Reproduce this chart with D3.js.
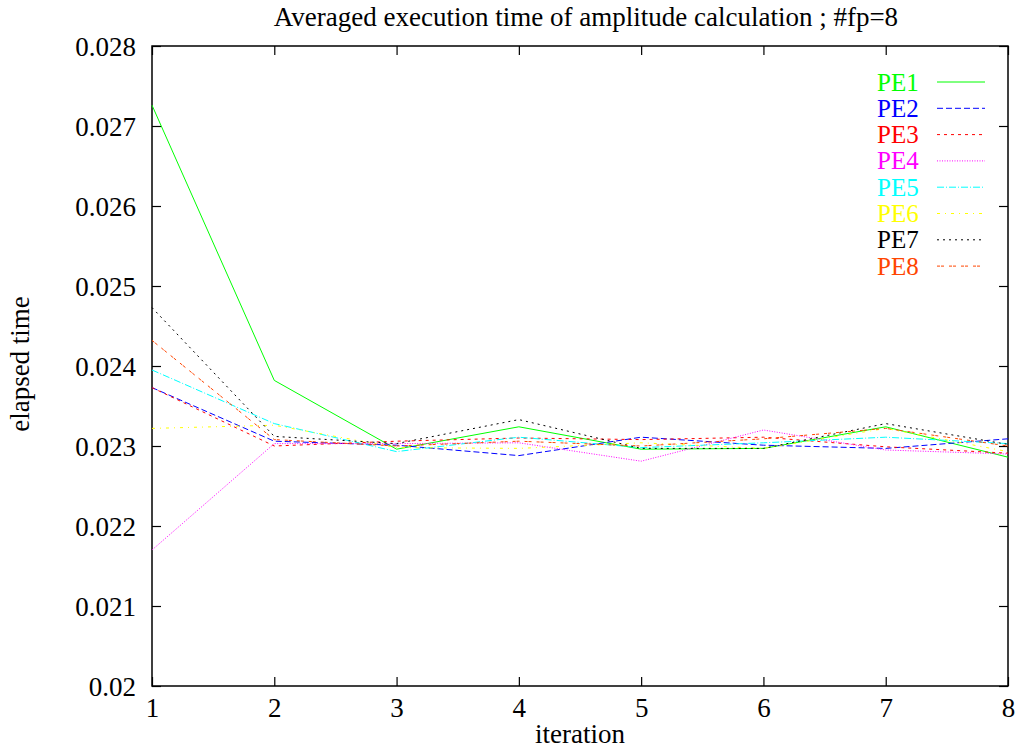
<!DOCTYPE html>
<html>
<head>
<meta charset="utf-8">
<script src="https://cdn.jsdelivr.net/npm/d3@7"></script>
<style>
  body { margin: 0; background: #fff; }
  svg text { font-family: "Liberation Serif", "DejaVu Serif", serif; }
</style>
</head>
<body>
<div id="chart"></div>
<script>
// iterations on the x axis
var iterations = [1, 2, 3, 4, 5, 6, 7, 8];
var yTicks = [0.02, 0.021, 0.022, 0.023, 0.024, 0.025, 0.026, 0.027, 0.028];

// averaged elapsed time per PE
var pe1 = [0.02726, 0.02382, 0.02296, 0.02324, 0.02296, 0.02297, 0.02324, 0.02286];
var pe2 = [0.02373, 0.02306, 0.02301, 0.02288, 0.02311, 0.02301, 0.02297, 0.02309];
var pe3 = [0.02373, 0.02300, 0.02306, 0.02310, 0.02308, 0.02311, 0.02299, 0.02291];
var pe4 = [0.02170, 0.02303, 0.02303, 0.02304, 0.02281, 0.02320, 0.02295, 0.02290];
var pe5 = [0.02395, 0.02328, 0.02293, 0.02311, 0.02298, 0.02304, 0.02311, 0.02303];
var pe6 = [0.02322, 0.02326, 0.02298, 0.02297, 0.02304, 0.02297, 0.02322, 0.02293];
var pe7 = [0.02473, 0.02312, 0.02303, 0.02333, 0.02297, 0.02297, 0.02328, 0.02302];
var pe8 = [0.02432, 0.02308, 0.02300, 0.02306, 0.02300, 0.02309, 0.02322, 0.02300];

var names = ["PE1", "PE2", "PE3", "PE4", "PE5", "PE6", "PE7", "PE8"];
var colors = ["#00ff00", "#0000ff", "#ff0000", "#ff00ff", "#00ffff", "#ffff00", "#000000", "#ff4500"];
var dashes = [null, "6,3", "3,4", "1,1.5", "7,2,1,2", "3,5,1,5", "2,4", "3,1,3,5"];
var values = [pe1, pe2, pe3, pe4, pe5, pe6, pe7, pe8];

var width = 1021, height = 749;
var margin = {left: 152, right: 13, top: 46, bottom: 63};
var serif = "'Liberation Serif', 'DejaVu Serif', serif";

var svg = d3.select("#chart").append("svg")
    .attr("width", width)
    .attr("height", height)
    .attr("font-family", serif);

var x = d3.scaleLinear().domain([1, 8]).range([margin.left, width - margin.right]);
var y = d3.scaleLinear().domain([0.02, 0.028]).range([height - margin.bottom, margin.top]);

var fmt = function(v) { return String(+v.toFixed(3)); };
var tickLen = 9;

// ticks on all four sides, pointing inward
var axisB = d3.axisBottom(x).tickValues(iterations).tickSize(-tickLen).tickFormat(d3.format("d")).tickPadding(12);
var axisT = d3.axisTop(x).tickValues(iterations).tickSize(-tickLen).tickFormat("");
var axisL = d3.axisLeft(y).tickValues(yTicks).tickSize(-tickLen).tickFormat(fmt).tickPadding(16);
var axisR = d3.axisRight(y).tickValues(yTicks).tickSize(-tickLen).tickFormat("");

function styleAxis(g) {
    g.attr("font-family", serif).attr("font-size", 27);
    g.select(".domain").remove();
    g.selectAll(".tick line").attr("stroke", "#000").attr("stroke-width", 1.2);
    g.selectAll(".tick text").attr("fill", "#000");
}

svg.append("g").attr("transform", "translate(0," + y(0.02) + ")").call(axisB).call(styleAxis);
svg.append("g").attr("transform", "translate(0," + y(0.028) + ")").call(axisT).call(styleAxis);
svg.append("g").attr("transform", "translate(" + x(1) + ",0)").call(axisL).call(styleAxis)
    .selectAll(".tick text").attr("dy", "0.34em");
svg.append("g").attr("transform", "translate(" + x(8) + ",0)").call(axisR).call(styleAxis);

svg.append("rect")
    .attr("x", x(1)).attr("y", y(0.028))
    .attr("width", x(8) - x(1)).attr("height", y(0.02) - y(0.028))
    .attr("fill", "none").attr("stroke", "#000").attr("stroke-width", 1.5);

var line = d3.line()
    .x(function(d, i) { return x(iterations[i]); })
    .y(function(d) { return y(d); });

svg.append("g").selectAll("path")
    .data(values)
    .join("path")
    .attr("d", line)
    .attr("fill", "none")
    .attr("stroke", function(d, i) { return colors[i]; })
    .attr("stroke-width", 1)
    .attr("stroke-dasharray", function(d, i) { return dashes[i]; });

// legend
var legend = svg.append("g").selectAll("g")
    .data(names)
    .join("g")
    .attr("transform", function(d, i) { return "translate(0," + (82 + i * 26.3) + ")"; });

legend.append("text")
    .attr("x", 877)
    .attr("dy", "0.34em")
    .attr("fill", function(d, i) { return colors[i]; })
    .attr("font-size", 25)
    .text(function(d) { return d; });

legend.append("line")
    .attr("x1", 937).attr("x2", 985)
    .attr("stroke", function(d, i) { return colors[i]; })
    .attr("stroke-width", 1)
    .attr("stroke-dasharray", function(d, i) { return dashes[i]; });

// titles
svg.append("text")
    .attr("x", 586).attr("y", 26)
    .attr("text-anchor", "middle")
    .attr("font-size", 27)
    .text("Averaged execution time of amplitude calculation ; #fp=8");

svg.append("text")
    .attr("x", 580).attr("y", 743)
    .attr("text-anchor", "middle")
    .attr("font-size", 27)
    .text("iteration");

svg.append("text")
    .attr("transform", "translate(29," + 364 + ") rotate(-90)")
    .attr("text-anchor", "middle")
    .attr("font-size", 27)
    .text("elapsed time");
</script>
</body>
</html>
